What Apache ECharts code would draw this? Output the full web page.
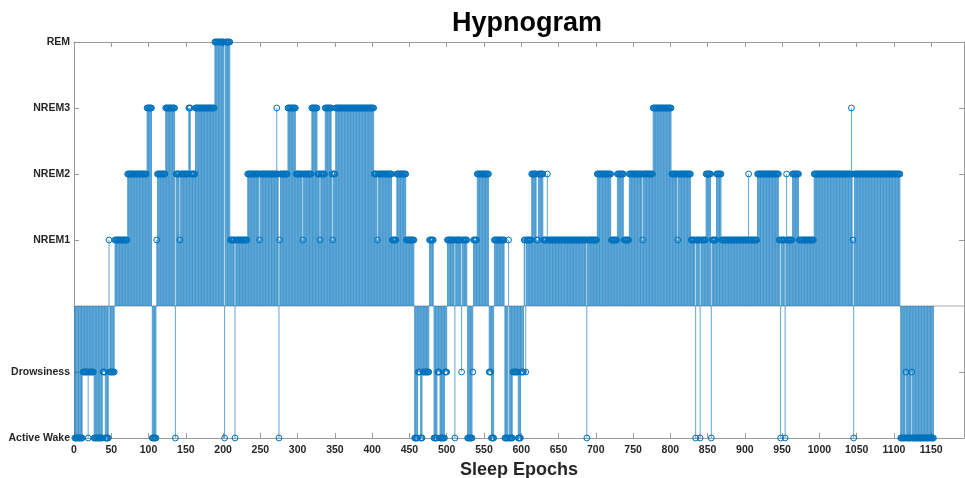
<!DOCTYPE html>
<html>
<head>
<meta charset="utf-8">
<script src="https://cdn.jsdelivr.net/npm/echarts@6/dist/echarts.min.js"></script>
<style>
html,body{margin:0;padding:0;background:#fff;}
#chart{width:965px;height:478px;}
</style>
</head>
<body>
<div id="chart"></div>
<script>
// Stage codes: -2 Active Wake, -1 Drowsiness, 1 NREM1, 2 NREM2, 3 NREM3, 4 REM
var stageValues = [-2, -1, 1, 2, 3, 4];
var stageLabels = ['Active Wake', 'Drowsiness', 'NREM1', 'NREM2', 'NREM3', 'REM'];
var xTicks = [0,50,100,150,200,250,300,350,400,450,500,550,600,650,700,750,800,850,900,950,1000,1050,1100,1150];

// Hypnogram as runs of consecutive epochs (stage, number of epochs)
var runStages = [
 -2,-1,-2,-1,-2,-1,-2,1,-1,1,2,3,-2,1,2,3,-2,2,1,2,3,2,3,4,-2,4,1,-2,1,2,1,2,3,2,-2,1,2,3,2,1,2,3,2,1,2,3,2,1,2,3,2,1,2,1,2,1,
 -2,-1,-2,-1,1,-2,-1,-2,-1,1,-2,1,-1,1,-2,-1,1,2,-1,-2,1,-2,1,-2,-1,-2,-1,
 1,-1,1,2,1,2,1,2,1,-2,1,2,1,2,1,2,1,2,3,2,1,2,1,-2,1,-2,1,2,-2,1,2,1,2,1,2,1,-2,1,-2,1,2,1,2,1,2,3,2,1,-2,2,
 -2,-1,-2,-1,-2
];
var runLengths = [
 11,7,1,7,12,3,5,1,7,17,26,7,6,1,11,13,1,5,1,11,3,6,26,13,1,7,6,1,16,16,1,22,1,2,1,1,10,11,9,1,11,8,3,1,6,9,1,1,3,52,4,1,19,6,13,11,
 5,3,3,9,6,5,3,7,3,10,1,8,1,7,7,1,5,16,3,4,14,5,1,5,7,4,4,
 2,1,7,7,2,7,5,1,52,1,13,19,8,9,7,18,1,13,25,8,1,17,6,1,5,1,7,7,1,6,7,36,1,11,29,2,1,5,1,1,1,7,9,20,50,1,1,1,1,62,
 7,1,7,1,29
];

var epochs = [];
(function(){
  var e = 1;
  for (var i = 0; i < runStages.length; i++) {
    for (var k = 0; k < runLengths[i]; k++) { epochs.push([e, runStages[i]]); e++; }
  }
})();

var stemColor = '#0072BD';
var axisColor = '#9a9a9a';
var labelColor = '#262626';
var xMax = 1194;
var font = 'Liberation Sans, Arial, sans-serif';

var chart = echarts.init(document.getElementById('chart'), null, {renderer: 'canvas'});
chart.setOption({
  animation: false,
  backgroundColor: '#fff',
  title: {
    text: 'Hypnogram',
    left: 522, top: 5, textAlign: 'center',
    textStyle: {fontFamily: font, fontWeight: 'bold', fontSize: 27, color: '#000'}
  },
  grid: {left: 74, right: 1, top: 42, bottom: 40, containLabel: false, outerBoundsMode: 'none'},
  xAxis: [{
    type: 'value', min: 0, max: xMax, position: 'bottom',
    name: 'Sleep Epochs', nameLocation: 'middle', nameGap: 21,
    nameTextStyle: {fontFamily: font, fontWeight: 'bold', fontSize: 18, color: labelColor},
    axisLine: {show: true, onZero: false, lineStyle: {color: axisColor, width: 1}},
    axisTick: {show: true, inside: true, length: 5, customValues: xTicks, lineStyle: {color: axisColor}},
    axisLabel: {customValues: xTicks, margin: 7, fontFamily: font, fontWeight: 'bold', fontSize: 10.5, color: labelColor,
      formatter: function (v) { return String(v); }},
    splitLine: {show: false}
  }, {
    type: 'value', min: 0, max: xMax, position: 'top',
    axisLine: {show: true, onZero: false, lineStyle: {color: axisColor, width: 1}},
    axisTick: {show: true, inside: true, length: 5, customValues: xTicks, lineStyle: {color: axisColor}},
    axisLabel: {show: false},
    splitLine: {show: false}
  }],
  yAxis: [{
    type: 'value', min: -2, max: 4, interval: 1, position: 'left',
    axisLine: {show: true, onZero: false, lineStyle: {color: axisColor, width: 1}},
    axisTick: {show: true, inside: true, length: 5, customValues: stageValues, lineStyle: {color: axisColor}},
    axisLabel: {
      customValues: stageValues, margin: 4,
      fontFamily: font, fontWeight: 'bold', fontSize: 10.5, color: labelColor,
      formatter: function (v) { var i = stageValues.indexOf(v); return i >= 0 ? stageLabels[i] : ''; }
    },
    splitLine: {show: false}
  }, {
    type: 'value', min: -2, max: 4, interval: 1, position: 'right',
    axisLine: {show: true, onZero: false, lineStyle: {color: axisColor, width: 1}},
    axisTick: {show: true, inside: true, length: 5, customValues: stageValues, lineStyle: {color: axisColor}},
    axisLabel: {show: false},
    splitLine: {show: false}
  }],
  series: [{
    type: 'line',
    data: [[0, 0], [xMax, 0]],
    symbol: 'none',
    lineStyle: {color: '#a8a8a8', width: 1},
    z: 1, silent: true
  }, {
    type: 'custom',
    data: epochs,
    encode: {x: 0, y: 1},
    z: 2,
    renderItem: function (params, api) {
      var x = api.value(0), v = api.value(1);
      var p0 = api.coord([x, 0]), p1 = api.coord([x, v]);
      return {
        type: 'group',
        children: [{
          type: 'line',
          shape: {x1: p0[0], y1: p0[1], x2: p1[0], y2: p1[1]},
          style: {stroke: stemColor, lineWidth: 0.7, opacity: 0.9}
        }, {
          type: 'circle',
          shape: {cx: p1[0], cy: p1[1], r: 2.9},
          style: {fill: 'none', stroke: stemColor, lineWidth: 1}
        }]
      };
    }
  }]
});
</script>
</body>
</html>
